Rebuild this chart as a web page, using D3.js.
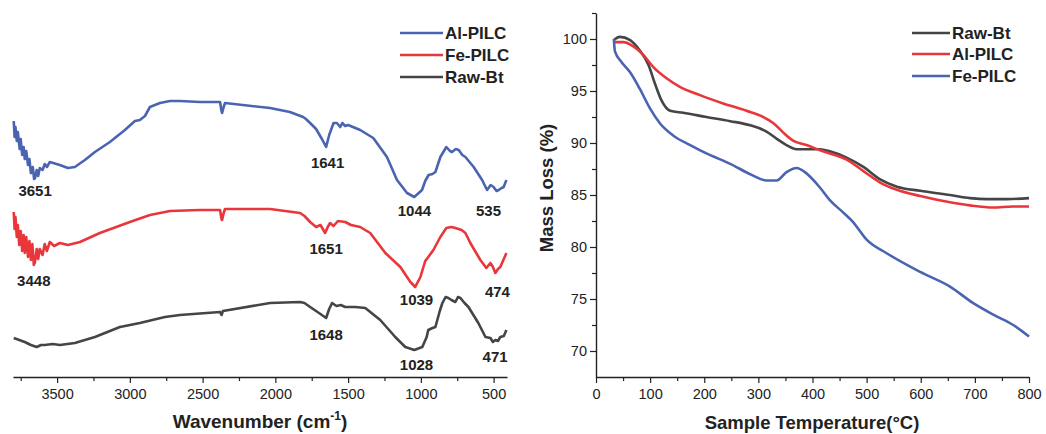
<!DOCTYPE html>
<html>
<head>
<meta charset="utf-8">
<script src="https://cdn.jsdelivr.net/npm/d3@7"></script>
<style>
  body { margin: 0; background: #fff; }
  svg { display: block; font-family: "Liberation Sans", Arial, sans-serif; }
</style>
</head>
<body>
<script>
// FTIR spectra (wavenumber cm-1, offset transmittance a.u.)
var ftirAl = [[3798,256],[3792,240],[3786,250],[3777,236],[3770,245],[3757,228],[3750,238],[3740,222],[3730,230],[3722,218],
  [3712,226],[3700,212],[3690,218],[3680,204],[3667,210],[3658,198],[3651,199],[3640,207],[3630,201],[3619,209],[3600,207],
  [3585,213],[3570,210],[3550,215],[3481,212],[3426,209],[3378,210],[3309,217],[3240,225],[3137,235],[3034,247],[2965,256],
  [2931,257],[2896,261],[2862,270],[2793,274],[2724,276],[2656,276],[2518,275],[2380,275],[2370,266],[2366,264],[2355,270],
  [2346,274],[2036,269],[1900,265],[1809,260],[1790,258],[1761,254],[1720,248],[1680,238],[1651,230],[1630,242],[1600,254],
  [1577,254],[1554,250],[1540,254],[1520,251],[1500,252],[1417,247],[1327,239],[1233,220],[1164,197],[1095,184],[1045,180],
  [992,187],[970,196],[947,202],[920,203],[900,205],[866,220],[825,230],[800,226],[786,225],[760,228],[740,227],[715,222],
  [694,220],[637,210],[579,197],[545,187],[520,192],[500,190],[480,186],[465,187],[445,189],[431,190],[412,197]];
var ftirFe = [[3798,165],[3792,148],[3786,160],[3777,140],[3770,152],[3760,132],[3750,146],[3740,126],[3730,142],[3722,124],
  [3712,140],[3700,120],[3690,136],[3680,117],[3670,133],[3660,112],[3653,114],[3640,128],[3630,118],[3619,128],[3600,122],
  [3585,133],[3570,126],[3550,135],[3520,131],[3481,134],[3426,132],[3343,135],[3206,144],[3000,155],[2862,162],[2724,166],
  [2518,167],[2380,167],[2370,158],[2366,157],[2355,164],[2346,168],[2036,168],[1830,164],[1800,161],[1761,155],[1720,150],
  [1690,152],[1658,144],[1640,150],[1624,154],[1600,151],[1570,156],[1520,155],[1480,152],[1417,150],[1348,144],[1244,124],
  [1141,110],[1072,95],[1039,90],[1003,100],[970,116],[949,120],[914,127],[866,140],[825,149],[790,150],[763,149],[720,147],
  [694,144],[680,140],[660,134],[591,117],[550,109],[522,114],[505,110],[488,104],[470,108],[454,110],[430,118],[412,124]];
var ftirRaw = [[3798,39],[3760,37],[3722,35],[3680,32],[3640,30],[3610,32],[3585,32],[3530,33],[3481,32],[3378,34],[3240,40],
  [3068,50],[2931,54],[2759,60],[2656,62],[2380,65],[2370,62],[2360,66],[2036,74],[1830,75],[1800,74],[1761,70],[1700,64],
  [1651,59],[1630,68],[1610,74],[1580,71],[1550,72],[1520,70],[1450,70],[1382,69],[1279,57],[1176,40],[1107,30],[1045,27],
  [990,30],[960,40],[949,47],[920,49],[900,50],[870,66],[852,74],[830,80],[811,79],[790,77],[763,75],[745,80],[728,79],
  [700,74],[673,70],[605,54],[556,40],[522,39],[505,35],[488,37],[470,36],[454,40],[430,41],[412,47]];
var peakLabels = [
  {t:"3651", wn:3651, v:181}, {t:"1641", wn:1641, v:209}, {t:"1044", wn:1044, v:161}, {t:"535", wn:535, v:161},
  {t:"3448", wn:3660, v:91}, {t:"1651", wn:1651, v:123}, {t:"1039", wn:1030, v:72}, {t:"474", wn:474, v:80},
  {t:"1648", wn:1651, v:37}, {t:"1028", wn:1030, v:7}, {t:"471", wn:490, v:15}
];
var wnTicks = [3500, 3000, 2500, 2000, 1500, 1000, 500];
var wnMinor = [3750, 3250, 2750, 2250, 1750, 1250, 750];

// TGA (temperature °C, mass %)
var tgaRaw = [[33,99.9],[44,100.2],[63,99.9],[81,98.9],[97,97.5],[109,95.7],[121,94.1],[137,93.1],[161,92.9],[204,92.5],
  [248,92.1],[285,91.7],[315,91.1],[334,90.4],[352,89.8],[371,89.4],[395,89.4],[414,89.4],[432,89.2],[463,88.6],[494,87.7],
  [525,86.5],[556,85.8],[599,85.4],[654,85.0],[691,84.7],[722,84.6],[760,84.6],[800,84.7]];
var tgaAl = [[33,99.7],[50,99.7],[69,99.3],[87,98.5],[106,97.3],[131,96.2],[155,95.4],[192,94.6],[235,93.8],[278,93.1],
  [309,92.5],[328,91.9],[346,91.0],[365,90.2],[389,89.8],[414,89.3],[432,89.0],[463,88.4],[494,87.3],[525,86.2],[556,85.5],
  [599,84.9],[654,84.3],[691,84.0],[734,83.8],[770,83.9],[800,83.9]];
var tgaFe = [[33,100.0],[35,98.8],[47,97.8],[63,96.8],[81,95.2],[100,93.3],[118,91.9],[143,90.7],[174,89.8],[204,89.0],
  [248,88.0],[285,87.0],[315,86.4],[334,86.4],[352,87.2],[371,87.6],[386,87.2],[414,85.7],[432,84.5],[455,83.4],[475,82.4],
  [500,80.7],[537,79.4],[599,77.6],[654,76.2],[697,74.6],[734,73.5],[771,72.5],[800,71.4]];
var tempTicks = [0, 100, 200, 300, 400, 500, 600, 700, 800];
var tempMinor = [50, 150, 250, 350, 450, 550, 650, 750];
var massTicks = [70, 75, 80, 85, 90, 95, 100];
var massMinor = [72.5, 77.5, 82.5, 87.5, 92.5, 97.5, 102.5];

var blue = "#4a64b2", red = "#e8363b", dark = "#454545";
var fmt = d3.format("d");

var svg = d3.select("body").append("svg").attr("width", 1046).attr("height", 434);
svg.append("rect").attr("width", 1046).attr("height", 434).attr("fill", "#fff");

// ---------- left panel: FTIR ----------
var xL = d3.scaleLinear().domain([3803, 408]).range([13, 507]);
var yL = d3.scaleLinear().domain([0, 367]).range([377, 10]);
var lineL = d3.line().x(function(d) { return xL(d[0]); }).y(function(d) { return yL(d[1]); });

[[ftirAl, blue], [ftirFe, red], [ftirRaw, dark]].forEach(function(s) {
  svg.append("path").datum(s[0]).attr("d", lineL)
    .attr("fill", "none").attr("stroke", s[1]).attr("stroke-width", 2.6).attr("stroke-linejoin", "round");
});

svg.selectAll("text.peak").data(peakLabels).enter().append("text")
  .attr("class", "peak")
  .attr("x", function(d) { return xL(d.wn); })
  .attr("y", function(d) { return yL(d.v); })
  .attr("text-anchor", "middle").attr("font-size", 15).attr("font-weight", "bold").attr("fill", "#222")
  .text(function(d) { return d.t; });

svg.append("g").attr("transform", "translate(0,377)")
  .call(d3.axisBottom(xL).tickValues(wnTicks).tickFormat(fmt).tickSize(6).tickSizeOuter(0).tickPadding(6));
svg.append("g").attr("transform", "translate(0,377)")
  .call(d3.axisBottom(xL).tickValues(wnMinor).tickSize(4).tickFormat(""))
  .select(".domain").remove();

svg.append("text").attr("x", 260).attr("y", 428).attr("text-anchor", "middle")
  .attr("font-size", 19).attr("font-weight", "bold").attr("fill", "#222")
  .text("Wavenumber (cm")
  .append("tspan").attr("font-size", 12).attr("dy", -8).text("-1")
  .select(function() { return this.parentNode; })
  .append("tspan").attr("dy", 8).text(")");

var legL = [["Al-PILC", blue, 33], ["Fe-PILC", red, 55], ["Raw-Bt", dark, 77]];
legL.forEach(function(l) {
  svg.append("line").attr("x1", 400).attr("x2", 443).attr("y1", l[2]).attr("y2", l[2])
    .attr("stroke", l[1]).attr("stroke-width", 2.6);
  svg.append("text").attr("x", 445).attr("y", l[2] + 6).attr("font-size", 17).attr("font-weight", "bold")
    .attr("fill", "#222").text(l[0]);
});

// ---------- right panel: TGA ----------
var xR = d3.scaleLinear().domain([0, 800]).range([596, 1029]);
var yR = d3.scaleLinear().domain([67.5, 102.5]).range([377, 13]);
var lineR = d3.line().curve(d3.curveMonotoneX)
  .x(function(d) { return xR(d[0]); }).y(function(d) { return yR(d[1]); });

[[tgaRaw, dark], [tgaAl, red], [tgaFe, blue]].forEach(function(s) {
  svg.append("path").datum(s[0]).attr("d", lineR)
    .attr("fill", "none").attr("stroke", s[1]).attr("stroke-width", 2.6).attr("stroke-linejoin", "round");
});

svg.append("g").attr("transform", "translate(0,377)")
  .call(d3.axisBottom(xR).tickValues(tempTicks).tickFormat(fmt).tickSize(6).tickSizeOuter(0).tickPadding(6));
svg.append("g").attr("transform", "translate(0,377)")
  .call(d3.axisBottom(xR).tickValues(tempMinor).tickSize(4).tickFormat(""))
  .select(".domain").remove();
svg.append("g").attr("transform", "translate(596,0)")
  .call(d3.axisLeft(yR).tickValues(massTicks).tickFormat(fmt).tickSize(6).tickSizeOuter(0).tickPadding(3));
svg.append("g").attr("transform", "translate(596,0)")
  .call(d3.axisLeft(yR).tickValues(massMinor).tickSize(4).tickFormat(""))
  .select(".domain").remove();

svg.append("text").attr("x", 812).attr("y", 429).attr("text-anchor", "middle")
  .attr("font-size", 18.5).attr("font-weight", "bold").attr("fill", "#222")
  .text("Sample Temperature(°C)");
svg.append("text").attr("transform", "translate(553,188) rotate(-90)").attr("text-anchor", "middle")
  .attr("font-size", 18.5).attr("font-weight", "bold").attr("fill", "#222")
  .text("Mass Loss (%)");

var legR = [["Raw-Bt", dark, 33], ["Al-PILC", red, 54], ["Fe-PILC", blue, 76]];
legR.forEach(function(l) {
  svg.append("line").attr("x1", 912).attr("x2", 950).attr("y1", l[2]).attr("y2", l[2])
    .attr("stroke", l[1]).attr("stroke-width", 2.6);
  svg.append("text").attr("x", 952).attr("y", l[2] + 6).attr("font-size", 17).attr("font-weight", "bold")
    .attr("fill", "#222").text(l[0]);
});

// axis styling
svg.selectAll(".domain").attr("stroke", "#222").attr("stroke-width", 1.4);
svg.selectAll(".tick line").attr("stroke", "#222").attr("stroke-width", 1.2);
svg.selectAll(".tick text").attr("font-size", 14.5).attr("fill", "#222")
  .attr("font-family", "'Liberation Sans', Arial, sans-serif");
</script>
</body>
</html>
